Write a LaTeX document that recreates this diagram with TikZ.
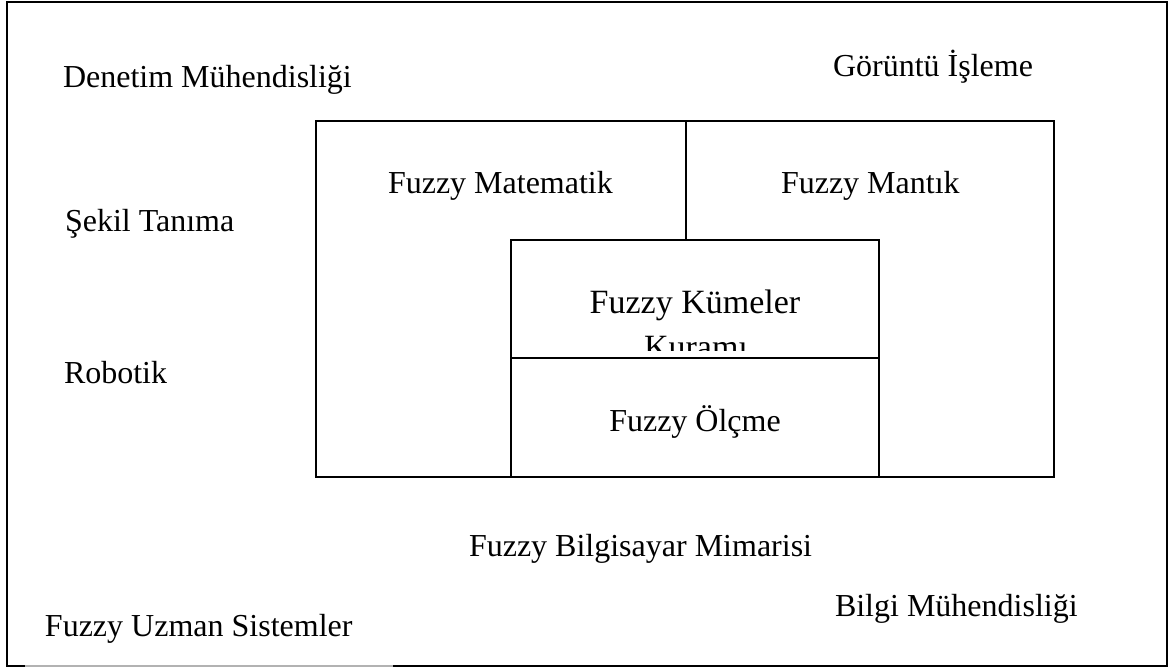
\documentclass[tikz,border=0pt]{standalone}
\usepackage{fontspec}
\setmainfont{Liberation Serif}
\begin{document}
\begin{tikzpicture}[x=1pt,y=-1pt,
  lbl/.style={inner sep=0pt, outer sep=0pt, font=\fontsize{32}{38}\selectfont},
  big/.style={inner sep=0pt, outer sep=0pt, font=\fontsize{34}{40}\selectfont},
  frame/.style={line width=2pt, line join=miter},
  faint/.style={line width=1.4pt, draw=black!30}]
\useasboundingbox (0,0) rectangle (1171,671);
% outer frame
\coordinate (fTL) at (7,2);
\coordinate (fTR) at (1167,2);
\coordinate (fBR) at (1167,666);
\coordinate (fBL) at (7,666);
\coordinate (gapL) at (25,666);
\coordinate (gapR) at (393,666);
\draw[frame] (gapR) -- (fBR) -- (fTR) -- (fTL) -- (fBL) -- (gapL);
\draw[faint] (gapL) -- (gapR);
% main box
\coordinate (bTL) at (316,121);
\coordinate (bBR) at (1054,477);
\draw[frame] (bTL) rectangle (bBR);
% divider between Matematik and Mantik
\coordinate (dTop) at (685.5,121);
\coordinate (dBot) at (685.5,240);
\draw[frame] (dTop) -- (dBot);
% inner box
\coordinate (iTL) at (511,240);
\coordinate (iBR) at (879,477);
\draw[frame] (iTL) rectangle (iBR);
\coordinate (hL) at (511,358);
\coordinate (hR) at (879,358);
\draw[frame] (hL) -- (hR);
% labels
\node[lbl, anchor=base west] (den) at (63,88) {Denetim Mühendisliği};
\node[lbl, anchor=base west] (gor) at (833,77) {Görüntü İşleme};
\node[lbl, anchor=base west] (sek) at (65,232) {Şekil Tanıma};
\node[lbl, anchor=base west] (rob) at (64,383) {Robotik};
\node[lbl, anchor=base west] (mat) at (388,194) {Fuzzy Matematik};
\node[lbl, anchor=base west] (man) at (781,194) {Fuzzy Mantık};
\node[big, anchor=base] (kum) at (695,313) {Fuzzy Kümeler};
\begin{scope}
  \clip (511,240) rectangle (879,350);
  \node[big, anchor=base] (kur) at (696,358) {Kuramı};
\end{scope}
\node[lbl, anchor=base] (olc) at (695,431) {Fuzzy Ölçme};
\node[lbl, anchor=base west] (bil) at (469,556) {Fuzzy Bilgisayar Mimarisi};
\node[lbl, anchor=base west] (bmu) at (835,616) {Bilgi Mühendisliği};
\node[lbl, anchor=base west] (uzm) at (45,636) {Fuzzy Uzman Sistemler};
\end{tikzpicture}
\end{document}
